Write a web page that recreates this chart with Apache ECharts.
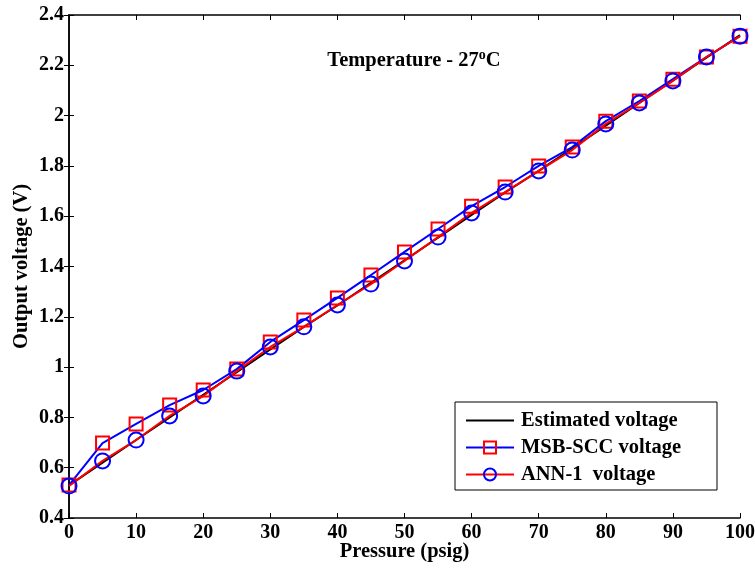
<!DOCTYPE html>
<html><head><meta charset="utf-8">
<script src="https://cdn.jsdelivr.net/npm/echarts@6/dist/echarts.min.js"></script>
<style>html,body{margin:0;padding:0;background:#fff}#c{width:755px;height:569px}</style>
</head><body><div id="c"></div>
<script>
const pressure = [0,5,10,15,20,25,30,35,40,45,50,55,60,65,70,75,80,85,90,95,100];
const estimated = [0.53,0.62,0.71,0.80,0.89,0.98,1.07,1.16,1.245,1.335,1.425,1.515,1.605,1.695,1.78,1.87,1.96,2.05,2.14,2.23,2.32];
const msbScc = [0.531,0.698,0.774,0.849,0.909,0.992,1.10,1.187,1.275,1.366,1.458,1.549,1.64,1.716,1.80,1.875,1.978,2.058,2.145,2.233,2.316];
const ann1 = [0.527,0.627,0.71,0.806,0.885,0.984,1.08,1.16,1.247,1.33,1.422,1.517,1.613,1.696,1.78,1.863,1.967,2.05,2.138,2.233,2.316];
const seriesNames = ['Estimated voltage','MSB-SCC voltage','ANN-1  voltage'];

const font = 'Liberation Serif';
const pair = a => pressure.map((x,i)=>[x,a[i]]);
const chart = echarts.init(document.getElementById('c'));
const axLine = {show:true, lineStyle:{color:'#000', width:1.5}};
const tick = {show:true, inside:true, length:5, lineStyle:{color:'#000', width:1}};
const nameStyle = {fontFamily:font, fontWeight:'bold', fontSize:20.5, color:'#000'};
const labStyle = {fontFamily:font, fontWeight:'bold', fontSize:20, color:'#000'};
chart.setOption({
  animation:false,
  backgroundColor:'#fff',
  grid:{left:69, right:15, top:15, bottom:51, containLabel:false, outerBoundsMode:'none'},
  title:{
    text:'Temperature - 27{s|o}C', left:409, top:43, textAlign:'center',
    textStyle:{fontFamily:font, fontWeight:'bold', fontSize:20.5, color:'#000',
      rich:{s:{fontFamily:font, fontWeight:'bold', fontSize:14, color:'#000', verticalAlign:'top', padding:[0,0,11,0]}}}
  },
  legend:{
    orient:'vertical', left:455, top:402,
    data:[{name:seriesNames[0], itemStyle:{opacity:0}}, seriesNames[1], seriesNames[2]],
    itemWidth:48, itemHeight:15, itemGap:6,
    padding:[8,36,5,10],
    backgroundColor:'#fff', borderColor:'#000', borderWidth:1,
    textStyle:{fontFamily:font, fontWeight:'bold', fontSize:20.5, color:'#000', padding:[0,0,0,2]}
  },
  xAxis:[{
    type:'value', min:0, max:100, interval:10,
    name:'Pressure (psig)', nameLocation:'middle', nameGap:23, nameMoveOverlap:false,
    nameTextStyle:nameStyle,
    axisLine:axLine, axisTick:tick, splitLine:{show:false},
    axisLabel:Object.assign({margin:5}, labStyle)
  },{
    type:'value', position:'top', min:0, max:100, interval:10,
    axisLine:axLine, axisTick:tick, splitLine:{show:false}, axisLabel:{show:false}
  }],
  yAxis:[{
    type:'value', min:0.4, max:2.4, interval:0.2,
    name:'Output voltage (V)', nameLocation:'middle', nameGap:37, nameMoveOverlap:false,
    nameTextStyle:nameStyle,
    axisLine:axLine, axisTick:tick, splitLine:{show:false},
    axisLabel:Object.assign({margin:5}, labStyle)
  },{
    type:'value', position:'right', min:0.4, max:2.4, interval:0.2,
    axisLine:axLine, axisTick:tick, splitLine:{show:false}, axisLabel:{show:false}
  }],
  series:[
    {name:seriesNames[0], type:'line', data:pair(estimated), symbol:'none',
     lineStyle:{color:'#000', width:2}, itemStyle:{color:'#000'}},
    {name:seriesNames[1], type:'line', data:pair(msbScc), symbol:'rect', symbolSize:13,
     lineStyle:{color:'#0000ff', width:2},
     itemStyle:{color:'rgba(255,255,255,0)', borderColor:'#ff0000', borderWidth:2}},
    {name:seriesNames[2], type:'line', data:pair(ann1), symbol:'circle', symbolSize:15,
     lineStyle:{color:'#ff0000', width:2},
     itemStyle:{color:'rgba(255,255,255,0)', borderColor:'#0000ff', borderWidth:2}}
  ]
});
</script></body></html>
